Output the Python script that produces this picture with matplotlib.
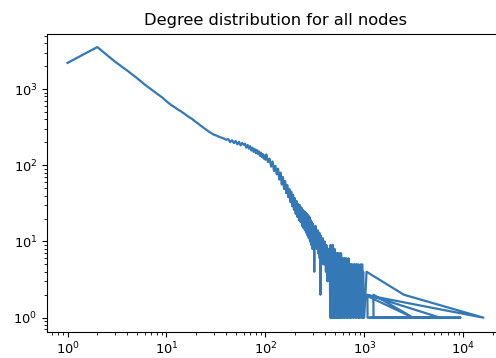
from matplotlib import pyplot as plt
import matplotlib
matplotlib.use("Agg")

# degree -> number of nodes, in the order the dict handed them over
deg_head = [1, 2, 3, 4, 5, 6, 7, 8, 9, 10, 11, 12, 13, 14, 15, 16, 17, 18,
            19, 20, 21, 22, 23, 24, 25, 26, 27, 28, 29, 30, 32, 34, 36, 38, 40]
cnt_head = [2200, 3550, 2300, 1750, 1400, 1150, 990, 870, 780, 690, 625,
            580, 540, 510, 478, 452, 425, 408, 385, 366, 350, 333, 320, 306,
            295, 284, 275, 266, 260, 252, 245, 236, 230, 224, 216]

deg_mid = [42, 44, 46, 48, 50, 52, 54, 56, 58, 60, 62, 64, 66, 68, 70, 72,
           74, 76, 78, 80, 82, 84, 86, 88, 90, 92, 94, 96, 98, 100]
cnt_mid = [220, 201, 213, 195, 208, 188, 203, 182, 196, 186, 192, 170, 184,
           165, 178, 156, 170, 150, 163, 144, 158, 140, 152, 133, 146, 128,
           140, 122, 134, 118]

deg_slope = [102, 106, 110, 114, 118, 122, 126, 130, 134, 138, 142, 146, 150,
             154, 158, 162, 166, 170, 174, 178, 182, 186, 190, 194, 198, 202,
             206, 210, 214, 218, 222, 226, 230, 234, 238, 242, 246, 250, 254,
             258, 262, 266, 270, 274, 278, 282, 286, 290, 294, 298]
cnt_slope = [138, 110, 122, 96, 112, 84, 98, 76, 90, 65, 80, 56, 70, 49, 62,
             43, 55, 38, 49, 33, 45, 29, 41, 26, 37, 23, 34, 21, 31, 19, 30,
             18, 28, 16, 26, 15, 25, 14, 24, 13, 23, 12, 22, 11, 21, 10, 19,
             9, 18, 8]

deg_drop = [302, 305, 308, 311, 314, 317, 320, 323, 326, 329, 332, 335, 338,
            341, 344, 347, 350, 353, 356, 359, 362, 365, 368, 371, 374, 377,
            380, 384, 388, 392, 396, 400, 404, 408, 412, 416, 420, 424, 428,
            432, 436, 440, 444, 448]
cnt_drop = [17, 11, 15, 4, 14, 10, 16, 9, 13, 8, 12, 10, 14, 7, 11, 9, 13, 6,
            10, 2, 12, 7, 11, 8, 10, 6, 11, 5, 9, 7, 10, 5, 8, 4, 9, 6, 8, 3,
            7, 5, 8, 4, 6, 3]

deg_band = [452, 455, 458, 461, 464, 467, 470, 473, 476, 479, 482,
            486, 490, 494, 498, 502, 506, 510, 514, 518, 522,
            527, 532, 537, 542, 547, 552, 557, 562,
            568, 574, 580, 586, 592, 598, 604, 610,
            617, 624, 631, 638, 645, 652, 659,
            666, 674, 682, 690, 698, 706, 714, 722, 730,
            739, 748, 757, 766, 775, 784, 793,
            802, 812, 822, 832, 842, 852, 862, 872, 882,
            893, 904, 915, 926, 937, 948, 959, 970, 982, 994]
cnt_band = [1, 9, 1, 7, 2, 8, 1, 6, 1, 9, 3,
            1, 7, 1, 8, 2, 1, 7, 1, 6, 1,
            7, 2, 1, 7, 1, 5, 1, 7,
            2, 1, 7, 1, 6, 1, 6, 3,
            1, 6, 1, 6, 2, 1, 6,
            1, 5, 1, 6, 2, 1, 5, 1, 5,
            1, 5, 2, 1, 5, 1, 5,
            3, 1, 5, 1, 5, 2, 1, 5, 1,
            4, 1, 5, 2, 1, 5, 1, 4, 1, 1]

deg_tail = [1050, 2500, 15900, 1000, 3100, 1230, 1235, 5800, 1070, 1075,
            9300, 1150]
cnt_tail = [4, 2, 1, 2, 1, 2, 1, 1, 2, 1, 1, 1]

# keep every zigzag of the noisy tail, no path thinning
plt.rcParams["path.simplify"] = False


def plot_degree_distribution(degrees, counts):
    """log-log line of node counts per degree"""
    fig = plt.figure(figsize=(4.96, 3.58), dpi=100)
    ax = fig.add_axes([0.0942, 0.0735, 0.922, 0.8307])

    ax.plot(degrees, counts, color="#3478b5", linewidth=1.6)
    ax.set_xscale("log")
    ax.set_yscale("log")
    ax.set_xlim(10 ** -0.21, 10 ** 4.41)
    ax.set_ylim(10 ** -0.184, 10 ** 3.718)

    ax.set_title("Degree distribution for all nodes", fontsize=11.7, pad=7)
    ax.tick_params(which="major", labelsize=9.4, length=3.3, width=0.8)
    ax.tick_params(which="minor", length=1.9, width=0.6)
    for spine in ax.spines.values():
        spine.set_linewidth(0.8)

    fig.savefig("out.png", dpi=100)


def main():
    """stitching the dict pieces together and plotting them"""
    degrees = deg_head + deg_mid + deg_slope + deg_drop + deg_band + deg_tail
    counts = cnt_head + cnt_mid + cnt_slope + cnt_drop + cnt_band + cnt_tail
    plot_degree_distribution(degrees, counts)


if __name__ == "__main__":
    main()
